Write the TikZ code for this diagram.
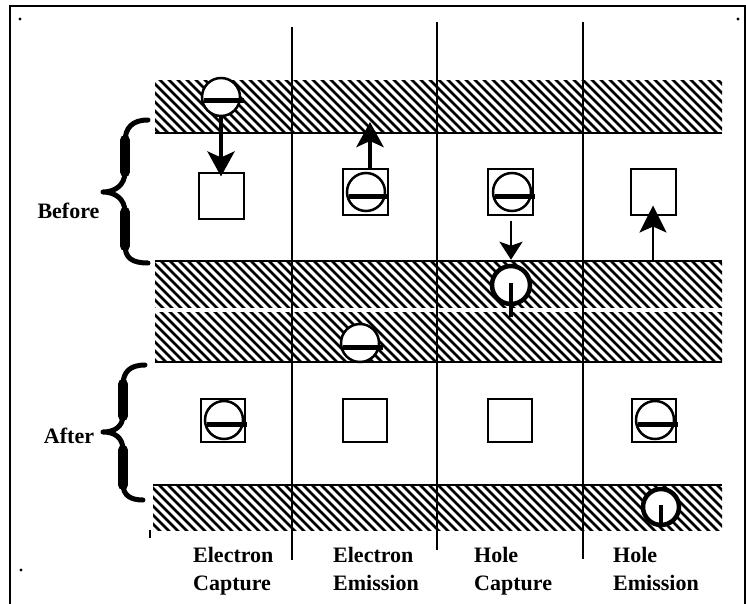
\documentclass[tikz,border=0pt]{standalone}
\usepackage{fontspec}
\setmainfont{Liberation Serif}
\usetikzlibrary{arrows.meta,calc}
\tikzset{
  trapbox/.style={draw, line width=2pt, minimum width=45pt, minimum height=45pt, inner sep=0pt},
  trapboxa/.style={draw, line width=2pt, minimum width=44pt, minimum height=43pt, inner sep=0pt},
  elec/.style={circle, draw, fill=white, line width=2.5pt, minimum size=38pt, inner sep=0pt},
  holec/.style={circle, draw, fill=white, line width=4.5pt, minimum size=38pt, inner sep=0pt},
  minusbar/.style={line width=5pt},
  holebar/.style={line width=4pt},
  bandline/.style={line width=2.5pt},
  hatchline/.style={line width=2.5pt},
  divider/.style={line width=2pt},
  framel/.style={line width=2pt},
  lab/.style={font=\bfseries\fontsize{22}{26}\selectfont, inner sep=0pt},
  bigarrow/.style={line width=4.5pt, -{Stealth[length=25pt,width=27pt,inset=6pt]}},
  thinarrow/.style={line width=2.7pt, -{Stealth[length=27pt,width=27pt,inset=6pt]}},
  smallarrow/.style={line width=2.7pt, -{Stealth[length=18pt,width=23pt,inset=4pt]}},
  bracestroke/.style={line width=5pt, line cap=round, line join=round},
  bracethick/.style={line width=10pt, line cap=round},
}
\newcommand{\hatchband}[4]{%
  \begin{scope}
    \clip (#1,#2) rectangle (#3,#4);
    \foreach \k in {0,...,72}{
      \draw[hatchline] ({#1-60+9*\k},{#2-3}) -- ++(62,62);
    }
  \end{scope}}
\newcommand{\electron}[2]{%
  \node[elec] (#1) at (#2) {};
  \draw[minusbar] ($(#1.center)+(-17,4)$) -- ($(#1.center)+(23,4)$);}
\begin{document}
\begin{tikzpicture}[x=1pt, y=-1pt]
\useasboundingbox (0,0) rectangle (746,604);
\fill[white] (0,0) rectangle (746,604);
% frame
\draw[framel] (9.5,604) -- (9.5,6.5) -- (745,6.5) -- (745,604);
\fill (20,19) circle (1.6);
\fill (738,19) circle (1.6);
\fill (21,570) circle (1.6);
\draw[line width=1.5pt] (150,530) -- (150,538);
% bands
\hatchband{155}{81}{722}{133}
\draw[bandline] (155,133) -- (722,133);
\hatchband{155}{261}{722}{307}
\hatchband{155}{312}{722}{362}
\draw[bandline] (155,261) -- (722,261);
\draw[bandline] (155,362) -- (722,362);
\hatchband{153}{485}{722}{530}
\draw[bandline] (153,485) -- (722,485);
% dividers
\coordinate (d1t) at (292,27);
\coordinate (d1b) at (292,560);
\coordinate (d2t) at (437,22);
\coordinate (d2b) at (437,550);
\coordinate (d3t) at (583,22);
\coordinate (d3b) at (583,559);
\draw[divider] (d1t) -- (d1b);
\draw[divider] (d2t) -- (d2b);
\draw[divider] (d3t) -- (d3b);
% traps before
\node[trapbox] (tb1) at (221,196) {};
\node[trapbox] (tb2) at (365,192) {};
\node[trapbox] (tb3) at (510,192) {};
\node[trapbox] (tb4) at (653,192) {};
% traps after
\node[trapboxa] (ta1) at (223,420) {};
\node[trapboxa] (ta2) at (365,420) {};
\node[trapboxa] (ta3) at (510,420) {};
\node[trapboxa] (ta4) at (654,420) {};
% electrons
\electron{e1}{221,97}
\electron{eb2}{366,192}
\electron{eb3}{512,192}
\electron{em2}{360,343}
\electron{ea1}{224,420}
\electron{ea4}{655,420}
% holes
\node[holec] (h3) at (511,285) {};
\draw[holebar] ($(h3.center)+(0,-2)$) -- ($(h3.center)+(0,32)$);
\node[holec, minimum size=36pt] (h4) at (661,507) {};
\draw[holebar] ($(h4.center)+(0,-2)$) -- ($(h4.center)+(0,19)$);
% arrows
\draw[bigarrow, shorten >=-4pt] (e1) -- (tb1);
\coordinate (c2) at (370,122);
\draw[bigarrow] (tb2.north -| c2) -- (c2);
\draw[smallarrow, shorten <=5pt, shorten >=4pt] (tb3.south -| h3) -- (h3.north);
\coordinate (c4) at (653,261);
\draw[thinarrow, shorten >=-10pt] (c4) -- (tb4);
% braces
\draw[bracestroke] (148,120) .. controls (132,120) and (125,128) .. (125,142) -- (125,172)
  .. controls (125,185) and (115,192) .. (103,192)
  .. controls (115,192) and (125,199) .. (125,212) -- (125,245)
  .. controls (125,258) and (132,263) .. (148,263);
\draw[bracethick] (125,140) -- (125,172);
\draw[bracethick] (125,212) -- (125,246);
\draw[bracestroke] (145,365) .. controls (130,365) and (123,372) .. (123,385) -- (123,415)
  .. controls (123,427) and (114,432) .. (103,432)
  .. controls (114,432) and (123,437) .. (123,450) -- (123,484)
  .. controls (123,495) and (130,500) .. (143,500);
\draw[bracethick] (123,384) -- (123,416);
\draw[bracethick] (123,450) -- (123,485);
% labels
\node[lab, anchor=base] (before) at (68.5,218) {Before};
\node[lab, anchor=base] (after) at (69,443) {After};
\node[lab, anchor=base west] (l1a) at (193,562) {Electron};
\node[lab, anchor=base west] (l1b) at (193,590) {Capture};
\node[lab, anchor=base west] (l2a) at (333,562) {Electron};
\node[lab, anchor=base west] (l2b) at (333,590) {Emission};
\node[lab, anchor=base west] (l3a) at (474,562) {Hole};
\node[lab, anchor=base west] (l3b) at (474,590) {Capture};
\node[lab, anchor=base west] (l4a) at (613,562) {Hole};
\node[lab, anchor=base west] (l4b) at (613,590) {Emission};
\end{tikzpicture}
\end{document}
